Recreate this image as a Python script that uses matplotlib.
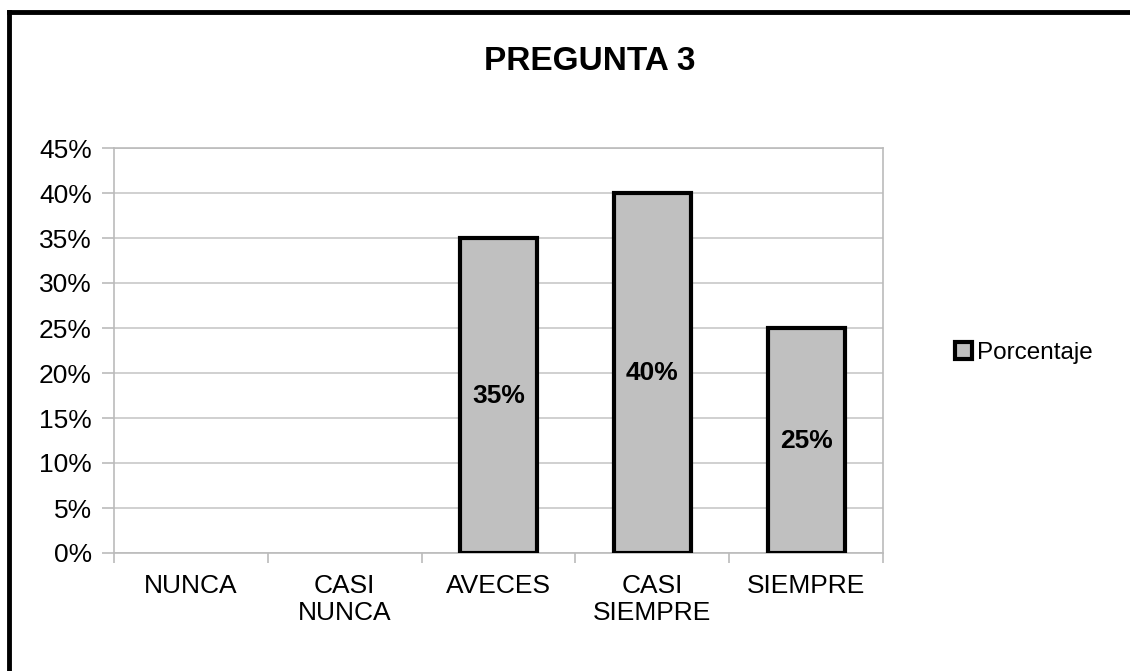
import numpy as np
import matplotlib.pyplot as plt
from matplotlib.lines import Line2D
from matplotlib.ticker import MultipleLocator, FuncFormatter

plt.rcParams['font.family'] = ['Liberation Sans', 'DejaVu Sans']

# datos
categorias = ['NUNCA', 'CASI\nNUNCA', 'AVECES', 'CASI\nSIEMPRE', 'SIEMPRE']
porcentaje = [0, 0, 0.35, 0.40, 0.25]
etiquetas = ['', '', '35%', '40%', '25%']

fig = plt.figure(figsize=(11.3, 6.71), dpi=100)
ax = fig.add_axes([114 / 1130, 1 - 553 / 671, (883 - 114) / 1130, (553 - 148) / 671])

x = np.arange(len(categorias))
barras = ax.bar(x, porcentaje, width=0.5, color='#c0c0c0', edgecolor='black',
                linewidth=3, label='Porcentaje', zorder=3)

for b, v, t in zip(barras, porcentaje, etiquetas):
    if v == 0:
        b.set_visible(False)
    if t:
        ax.text(b.get_x() + b.get_width() / 2, v / 2, t, ha='center', va='center',
                fontsize=19, fontweight='bold', zorder=4)

ax.set_xlim(-0.5, len(categorias) - 0.5)
ax.set_ylim(0, 0.45)
ax.yaxis.set_major_locator(MultipleLocator(0.05))
ax.yaxis.set_major_formatter(FuncFormatter(lambda v, p: f'{v * 100:.0f}%'))
ax.grid(axis='y', color='#c8c8c8', linewidth=1.2, zorder=0)

ax.set_xticks(x)
ax.set_xticklabels(categorias, fontsize=19, linespacing=1.15)
ax.tick_params(axis='x', length=0, pad=15)
ax.set_xticks(np.arange(-0.5, len(categorias)), minor=True)
ax.tick_params(axis='x', which='minor', length=7, color='#bbbbbb', width=1.2)
ax.tick_params(axis='y', labelsize=19, length=9, color='#bbbbbb', width=1.2, pad=7)

for s in ax.spines.values():
    s.set_color('#bbbbbb')
    s.set_linewidth(1.2)

fig.text(590 / 1130, 1 - 62 / 671, 'PREGUNTA 3', ha='center', va='center',
         fontsize=24, fontweight='bold')

leg = fig.legend(handles=[barras[2]], labels=['Porcentaje'], loc='center left',
                 bbox_to_anchor=(943 / 1130, 1 - 353 / 671), frameon=False,
                 fontsize=17.5, handlelength=0.7, handleheight=0.7, handletextpad=0.2,
                 borderpad=0)

# marco del gráfico
fig.add_artist(Line2D([9 / 1130, 9 / 1130], [0, 1 - 12 / 671], color='black', linewidth=3.5))
fig.add_artist(Line2D([9 / 1130, 1], [1 - 12 / 671, 1 - 12 / 671], color='black', linewidth=3.5))

fig.savefig('out.png', dpi=100)
